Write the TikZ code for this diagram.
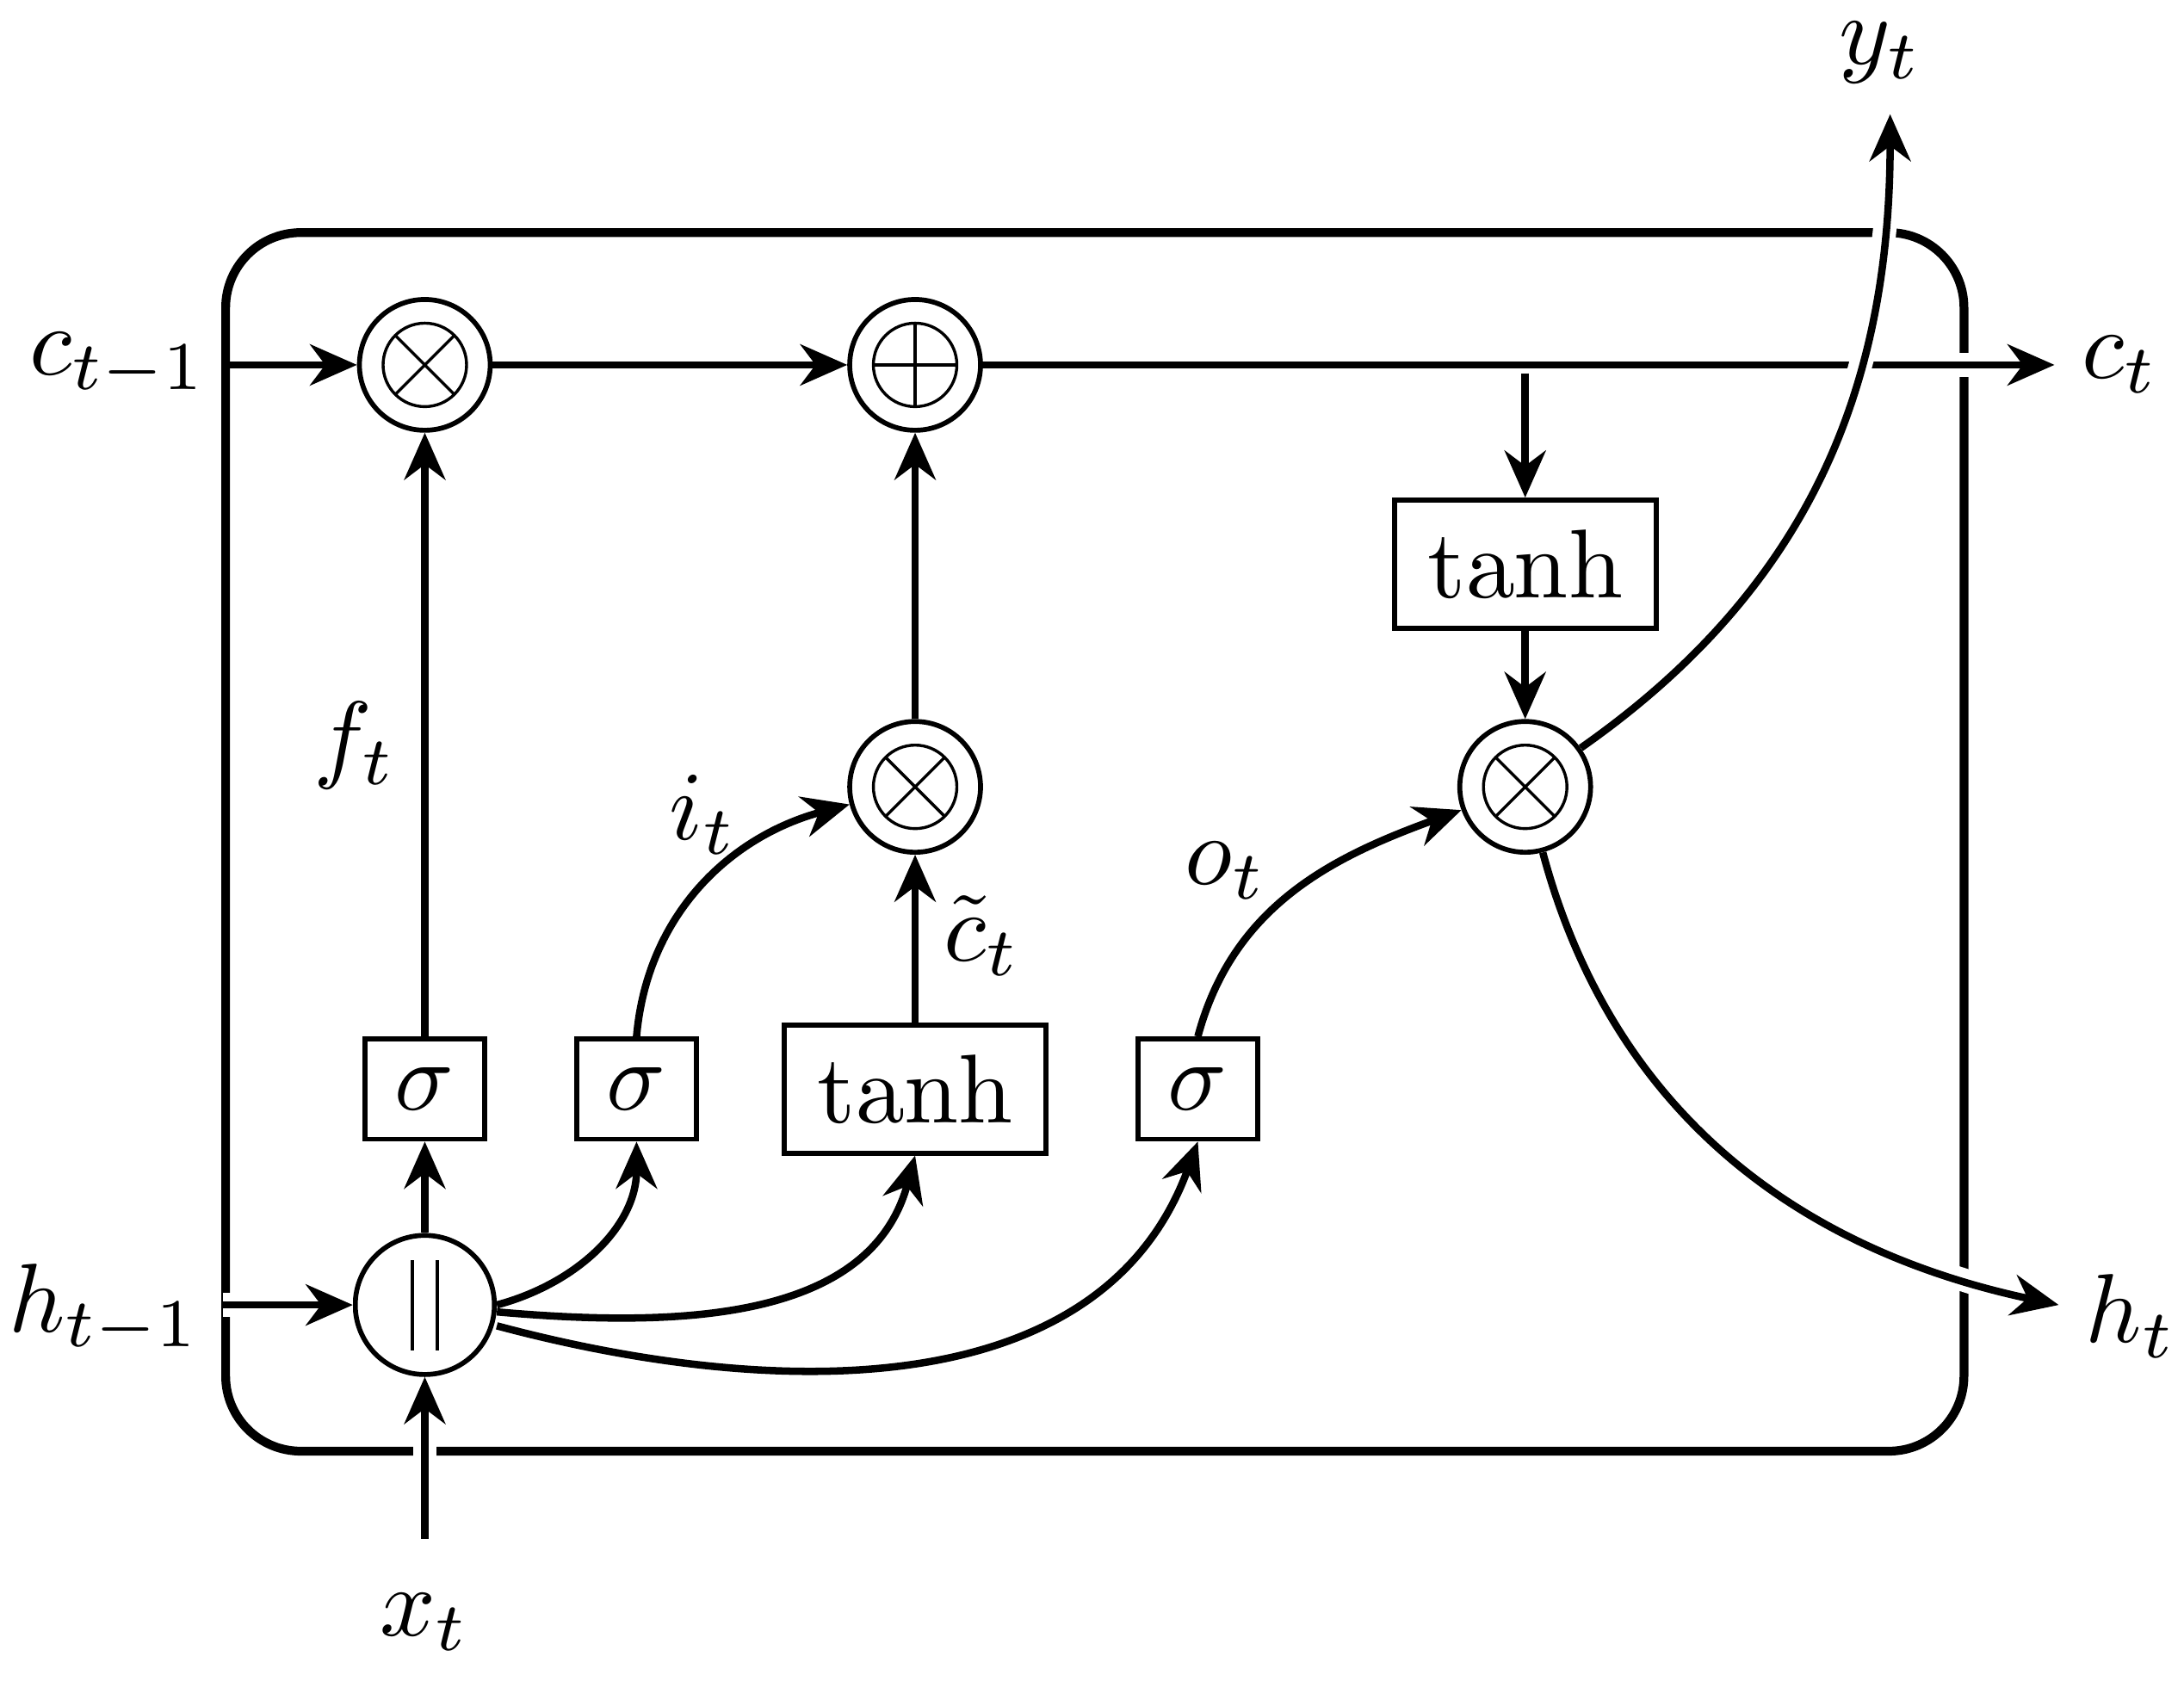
\documentclass[tikz,border=0pt]{standalone}
\usetikzlibrary{arrows.meta}
\begin{document}
\begin{tikzpicture}[x=0.005cm,y=-0.005cm,
  ar/.style={line width=0.75pt,-{Stealth[length=4.8pt,width=4.2pt]}},
  cr/.style={ar,preaction={draw=white,line width=2.4pt,-}},
  op/.style={circle,draw,line width=0.5pt,minimum size=0.47cm,inner sep=0pt},
  bx/.style={draw,line width=0.5pt,inner sep=0pt,font=\normalsize},
  lb/.style={font=\normalsize}]
\useasboundingbox (0,0) rectangle (1568,1207);
\draw[line width=0.9pt,rounded corners=0.27cm] (162,167) rectangle (1410,1042);
% operators
\node[op] (m1) at (305,262) {};
\node[op] (pl) at (657,262) {};
\node[op] (m2) at (657,565) {};
\node[op] (m3) at (1095,565) {};
\node[op,minimum size=0.5cm] (cc) at (305,937) {};
\foreach \n in {m1,m2,m3}{
  \draw[line width=0.3pt] (\n) circle (0.15cm);
  \draw[line width=0.3pt] (\n)+(-21,-21)--+(21,21) (\n)+(-21,21)--+(21,-21);}
\draw[line width=0.3pt] (pl) circle (0.15cm);
\draw[line width=0.3pt] (pl)+(-30,0)--+(30,0) (pl)+(0,-30)--+(0,30);
\draw[line width=0.4pt] (296,905)--(296,970) (314,905)--(314,970);
% boxes
\node[bx,minimum width=0.43cm,minimum height=0.36cm] (s1) at (305,782) {$\sigma$};
\node[bx,minimum width=0.43cm,minimum height=0.36cm] (s2) at (457,782) {$\sigma$};
\node[bx,minimum width=0.94cm,minimum height=0.46cm] (t1) at (657,782) {$\tanh$};
\node[bx,minimum width=0.43cm,minimum height=0.36cm] (s3) at (860,782) {$\sigma$};
\node[bx,minimum width=0.94cm,minimum height=0.46cm] (t2) at (1095,405) {$\tanh$};
% labels
\node[lb] (lc0) at (85,262) {$c_{t-1}$};
\node[lb] (lc1) at (1522,262) {$c_t$};
\node[lb] (lh0) at (75,940) {$h_{t-1}$};
\node[lb] (lh1) at (1530,945) {$h_t$};
\node[lb] (lx) at (305,1165) {$x_t$};
\node[lb] (ly) at (1350,38) {$y_t$};
\node[lb] at (255,535) {$f_t$};
\node[lb] at (505,585) {$i_t$};
\node[lb] at (705,672) {$\tilde{c}_t$};
\node[lb] at (880,625) {$o_t$};
\coordinate (cin) at (162,262);
\coordinate (cout) at (1475,262);
\coordinate (hin) at (160,937);
\coordinate (hout) at (1478,937);
\coordinate (xin) at (305,1105);
\coordinate (yout) at (1357,82);
\coordinate (tap) at (1095,268);
% connectors
\draw[ar] (cin)--(m1);
\draw[ar] (m1)--(pl);
\draw[cr] (pl)--(cout);
\draw[ar] (tap)--(t2);
\draw[ar] (t2)--(m3);
\draw[cr] (hin)--(cc);
\draw[cr] (xin)--(cc);
\draw[ar] (cc)--(s1);
\draw[ar] (s1)--(m1);
\draw[ar] (cc.east) to[out=15,in=-90] (s2.south);
\draw[ar] (s2.north) to[out=85,in=195] (m2);
\draw[ar] (t1)--(m2);
\draw[ar] (m2)--(pl);
\draw[ar] (cc.east) ++(0,5) to[out=-5,in=-105] (t1.south);
\draw[ar] (cc.east) ++(0,15) to[out=-15,in=-110] (s3.south);
\draw[ar] (s3.north) to[out=75,in=200] (m3);
\draw[cr] (m3) to[out=35,in=-90] (yout);
\draw[cr] (m3) to[out=-75,in=168] (hout);
\end{tikzpicture}
\end{document}
